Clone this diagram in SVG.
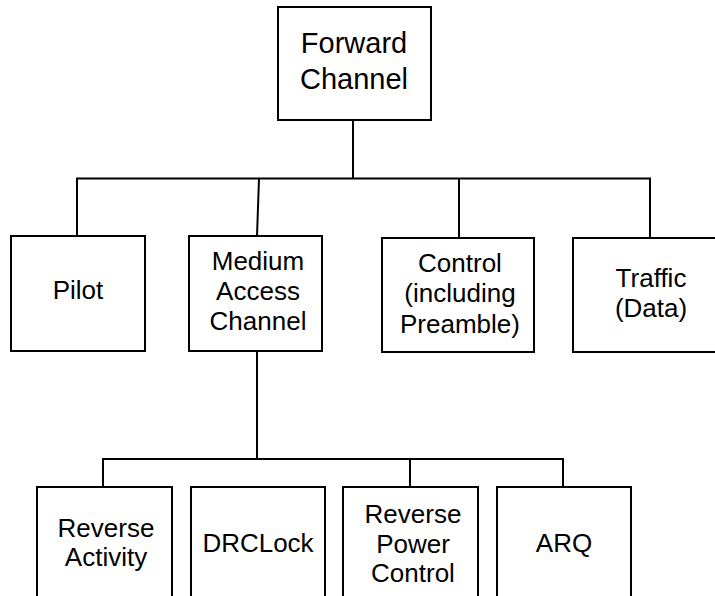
<svg xmlns="http://www.w3.org/2000/svg" width="715" height="596" viewBox="0 0 715 596">
<style>
.box{fill:#fff;stroke:#000;stroke-width:2}
.con{fill:none;stroke:#000;stroke-width:2}
text{font-family:"Liberation Sans",Arial,sans-serif;font-size:26px;fill:#000;text-anchor:middle}
.big{font-size:29px}
</style>
<rect width="715" height="596" fill="#fff"/>
<g id="connectors">
<path class="con" d="M353 120V178.5M77 236V178.5H650V238M259 178.5L257 236M459 178.5V238"/>
<path class="con" d="M257 351V459M103 487V459H563V487M410 459V487"/>
</g>
<g id="forward-channel">
<rect class="box" x="278" y="7" width="153" height="113"/>
<text class="big" x="354" y="53">Forward</text>
<text class="big" x="354" y="89">Channel</text>
</g>
<g id="pilot">
<rect class="box" x="11" y="236" width="134" height="115"/>
<text x="78" y="299">Pilot</text>
</g>
<g id="mac">
<rect class="box" x="189" y="236" width="133" height="115"/>
<text x="258" y="270">Medium</text>
<text x="258" y="300">Access</text>
<text x="258" y="330">Channel</text>
</g>
<g id="control">
<rect class="box" x="382" y="238" width="152" height="114"/>
<text x="460" y="272">Control</text>
<text x="460" y="302">(including</text>
<text x="460" y="333">Preamble)</text>
</g>
<g id="traffic">
<rect class="box" x="573" y="238" width="160" height="114"/>
<text x="651" y="287">Traffic</text>
<text x="651" y="317">(Data)</text>
</g>
<g id="reverse-activity">
<rect class="box" x="37" y="487" width="135" height="130"/>
<text x="106" y="537">Reverse</text>
<text x="106" y="566">Activity</text>
</g>
<g id="drclock">
<rect class="box" x="191" y="487" width="134" height="130"/>
<text x="258" y="552">DRCLock</text>
</g>
<g id="reverse-power-control">
<rect class="box" x="343" y="487" width="135" height="130"/>
<text x="413" y="523">Reverse</text>
<text x="413" y="553">Power</text>
<text x="413" y="582">Control</text>
</g>
<g id="arq">
<rect class="box" x="497" y="487" width="134" height="130"/>
<text x="564" y="552">ARQ</text>
</g>
</svg>
